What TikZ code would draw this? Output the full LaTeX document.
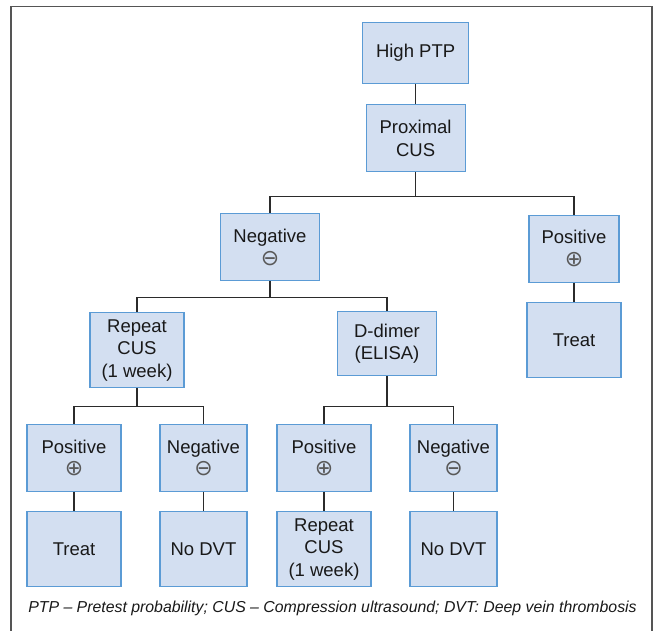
\documentclass[tikz,border=0pt]{standalone}
\usepackage{fontspec}
\setmainfont{Liberation Sans}
\newfontfamily\symfont{DejaVu Sans}
\definecolor{boxfill}{HTML}{D3DFF1}
\definecolor{boxline}{HTML}{5B9BD5}
\definecolor{connc}{HTML}{2B2B2B}
\definecolor{framec}{HTML}{555555}
\tikzset{
  box/.style={draw=boxline, fill=boxfill, line width=1.1pt, align=center,
    inner sep=0pt, font=\fontsize{18.5}{22.5}\selectfont, text=black!90},
  conn/.style={draw=connc, line width=1.2pt},
}
\newcommand{\plussym}{{\symfont\fontsize{22}{22.5}\selectfont\color{black!65}⊕}}
\newcommand{\minussym}{{\symfont\fontsize{22}{22.5}\selectfont\color{black!65}⊖}}
\begin{document}
\begin{tikzpicture}[x=1pt,y=-1pt]
\useasboundingbox (0,0) rectangle (653,631);
\begin{scope}
\clip (0,0) rectangle (653,631);
\draw[framec, line width=1.5pt] (11,640) -- (11,6.5) -- (652,6.5) -- (652,640);
\end{scope}

% level 1-2
\node[box, minimum width=106pt, minimum height=61pt] (hptp) at (415.6,53) {High PTP};
\node[box, minimum width=99pt, minimum height=67pt] (prox) at (415.6,138.3) {Proximal\\CUS};

% level 3
\node[box, minimum width=99pt, minimum height=67pt] (neg) at (270,247.3) {Negative\\\minussym};
\node[box, minimum width=90pt, minimum height=67pt] (posR) at (574,248.7) {Positive\\\plussym};
\node[box, minimum width=94pt, minimum height=75pt] (treatR) at (574,340.3) {Treat};

% level 4
\node[box, minimum width=94pt, minimum height=75pt] (rep) at (137,350.3) {Repeat\\CUS\\(1 week)};
\node[box, minimum width=98.5pt, minimum height=64pt] (dd) at (387,343.7) {D-dimer\\(ELISA)};

% level 5
\node[box, minimum width=94pt, minimum height=67pt] (posA) at (74,457.7) {Positive\\\plussym};
\node[box, minimum width=87pt, minimum height=67pt] (negA) at (203.5,457.7) {Negative\\\minussym};
\node[box, minimum width=94pt, minimum height=67pt] (posB) at (324,457.7) {Positive\\\plussym};
\node[box, minimum width=87pt, minimum height=67pt] (negB) at (453.5,457.7) {Negative\\\minussym};

% level 6
\node[box, minimum width=94pt, minimum height=75pt] (treatA) at (74,549.3) {Treat};
\node[box, minimum width=87pt, minimum height=75pt] (nodvtA) at (203.5,549.3) {No DVT};
\node[box, minimum width=94pt, minimum height=75pt] (repB) at (324,549.3) {Repeat\\CUS\\(1 week)};
\node[box, minimum width=87pt, minimum height=75pt] (nodvtB) at (453.5,549.3) {No DVT};

% connectors
\draw[conn] (hptp) -- (prox);
\draw[conn] (prox.south) -- ++(0,24.5) -| (neg.north);
\draw[conn] (prox.south) -- ++(0,24.5) -| (posR.north);
\draw[conn] (posR) -- (treatR);
\draw[conn] (neg.south) -- ++(0,16) -| (rep.north);
\draw[conn] (neg.south) -- ++(0,16) -| (dd.north);
\draw[conn] (rep.south) -- ++(0,18) -| (posA.north);
\draw[conn] (rep.south) -- ++(0,18) -| (negA.north);
\draw[conn] (dd.south) -- ++(0,30) -| (posB.north);
\draw[conn] (dd.south) -- ++(0,30) -| (negB.north);
\draw[conn] (posA) -- (treatA);
\draw[conn] (negA) -- (nodvtA);
\draw[conn] (posB) -- (repB);
\draw[conn] (negB) -- (nodvtB);

% caption
\node[font=\fontsize{15.85}{18}\selectfont\itshape, text=black!90, inner sep=0pt] (cap) at (332.5,608)
  {PTP – Pretest probability; CUS – Compression ultrasound; DVT: Deep vein thrombosis};
\end{tikzpicture}
\end{document}
